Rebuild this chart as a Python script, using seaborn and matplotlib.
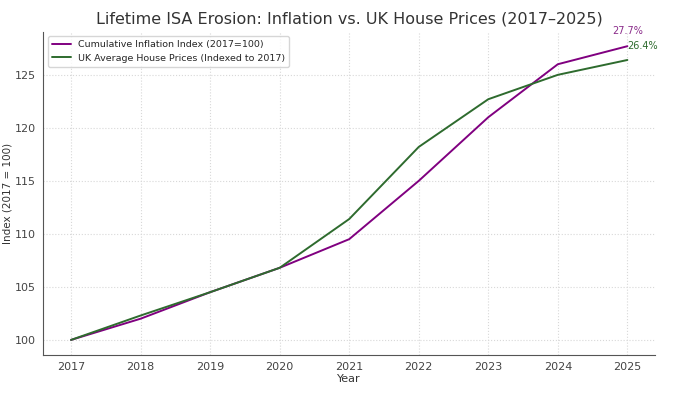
import pandas as pd
import matplotlib.pyplot as plt
import seaborn as sns

years = [2017, 2018, 2019, 2020, 2021, 2022, 2023, 2024, 2025]
inflation = [100, 102.0, 104.5, 106.8, 109.5, 115.0, 121.0, 126.0, 127.7]
house = [100, 102.3, 104.5, 106.8, 111.4, 118.2, 122.7, 125.0, 126.4]

df = pd.DataFrame({'Year': years, 'Inflation': inflation, 'House': house})

sns.set_style('whitegrid', {'grid.linestyle': ':', 'grid.color': '#d8d8d8'})
plt.rcParams['font.family'] = ['DejaVu Sans']

fig, ax = plt.subplots(figsize=(6.97, 3.94), dpi=100)
sns.lineplot(x='Year', y='Inflation', data=df, color='#800080', linewidth=1.4,
             label='Cumulative Inflation Index (2017=100)', ax=ax)
sns.lineplot(x='Year', y='House', data=df, color='#2e6b2e', linewidth=1.4,
             label='UK Average House Prices (Indexed to 2017)', ax=ax)

# percentage labels at the end
ax.text(years[-1], inflation[-1] + 1.4, f"{inflation[-1] - 100:.1f}%", color='#8a2b8a',
        fontsize=7, ha='center', va='center')
ax.text(years[-1], inflation[-1], f"{house[-1] - 100:.1f}%", color='#2e6b2e',
        fontsize=7, ha='left', va='center')

ax.set_title('Lifetime ISA Erosion: Inflation vs. UK House Prices (2017\u20132025)', fontsize=11.5, color='#333333')
ax.set_xlabel('Year', fontsize=8, color='#333333', labelpad=2)
ax.set_ylabel('Index (2017 = 100)', fontsize=7.5, color='#333333', labelpad=2)
ax.set_xticks(years)
ax.tick_params(axis='both', labelsize=8, colors='#444444', length=3, pad=2)
sns.despine(ax=ax)
for s in ['left', 'bottom']:
    ax.spines[s].set_color('#555555')
    ax.spines[s].set_linewidth(0.8)
ax.legend(loc='upper left', fontsize=6.8, frameon=True)

plt.subplots_adjust(left=0.062, right=0.94, top=0.92, bottom=0.1)
plt.savefig('out.png', dpi=100)
